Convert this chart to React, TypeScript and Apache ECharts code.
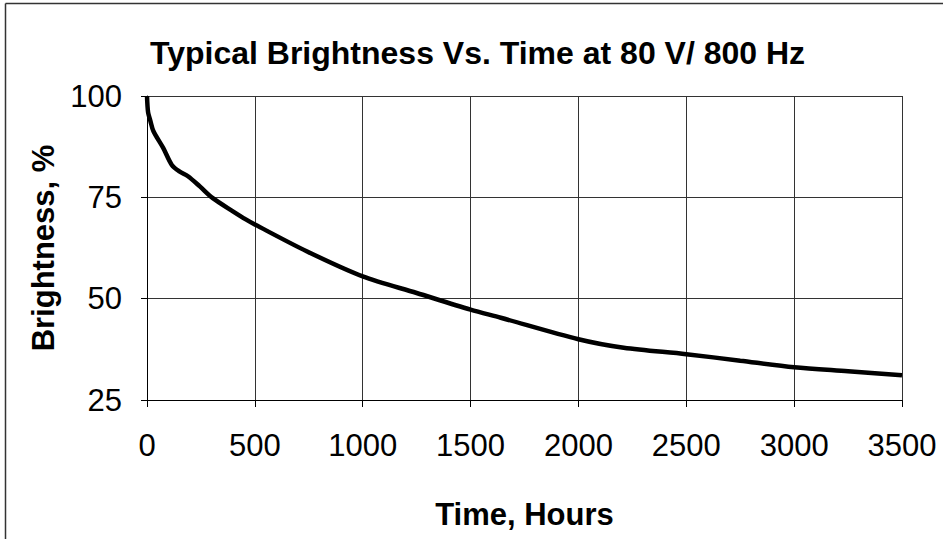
import React, { useEffect, useRef } from "react";
import * as echarts from "echarts";

const hours = [0, 5, 15, 30, 75, 115, 150, 190, 245, 305, 400, 460, 500, 740, 1000, 1250, 1500, 1640, 2000, 2210, 2500, 2750, 3000, 3250, 3500];
const brightness = [100, 96, 94, 91.3, 87.2, 83, 81.4, 80.2, 77.7, 74.8, 71.5, 69.5, 68.3, 61.7, 55.5, 51.4, 47.3, 45.3, 40, 37.9, 36.3, 34.7, 33.1, 32.1, 31.1];
const titleText = "Typical Brightness Vs. Time at 80 V/ 800 Hz";
const xName = "Time, Hours";
const yName = "Brightness, %";

export default function App() {
  const ref = useRef<HTMLDivElement>(null);
  useEffect(() => {
    if (!ref.current) return;
    const chart = echarts.init(ref.current, null, { renderer: "svg" });
    const font = "'Liberation Sans', Arial, sans-serif";
    chart.setOption({
      animation: false,
      backgroundColor: "#ffffff",
      title: {
        text: titleText,
        left: 145,
        top: 32,
        textStyle: { fontFamily: font, fontSize: 32, fontWeight: "bold", color: "#000" },
      },
      grid: { left: 147, top: 96, width: 755, height: 304, containLabel: false },
      xAxis: {
        type: "value",
        min: 0,
        max: 3500,
        interval: 500,
        name: xName,
        nameLocation: "middle",
        nameGap: 99,
        nameTextStyle: { fontFamily: font, fontSize: 31, fontWeight: "bold", color: "#000" },
        axisLine: { show: true, lineStyle: { color: "#000", width: 1 } },
        axisTick: { show: true, length: 7, lineStyle: { color: "#000" } },
        axisLabel: { fontFamily: font, fontSize: 31, color: "#000", margin: 30, formatter: (v: number) => String(v) },
        splitLine: { show: true, lineStyle: { color: "#333", width: 1 } },
      },
      yAxis: {
        type: "value",
        min: 25,
        max: 100,
        interval: 25,
        name: yName,
        nameLocation: "middle",
        nameGap: 84,
        nameTextStyle: { fontFamily: font, fontSize: 31, fontWeight: "bold", color: "#000" },
        axisLine: { show: true, lineStyle: { color: "#000", width: 1 } },
        axisTick: { show: true, length: 6, lineStyle: { color: "#000" } },
        axisLabel: { fontFamily: font, fontSize: 31, color: "#000", margin: 25, formatter: (v: number) => String(v) },
        splitLine: { show: true, lineStyle: { color: "#333", width: 1 } },
      },
      series: [
        {
          type: "line",
          data: hours.map((h, i) => [h, brightness[i]]),
          smooth: 0.3,
          showSymbol: false,
          lineStyle: { color: "#000", width: 4.5 },
          z: 5,
        },
      ],
      graphic: [
        { type: "line", shape: { x1: 5.5, y1: 3.5, x2: 943, y2: 3.5 }, style: { stroke: "#333", lineWidth: 1.5 } },
        { type: "line", shape: { x1: 5.5, y1: 3.5, x2: 5.5, y2: 539 }, style: { stroke: "#333", lineWidth: 1.5 } },
      ],
    });
    return () => chart.dispose();
  }, []);
  return <div ref={ref} style={{ position: "absolute", left: 0, top: 0, width: 943, height: 539 }} />;
}
